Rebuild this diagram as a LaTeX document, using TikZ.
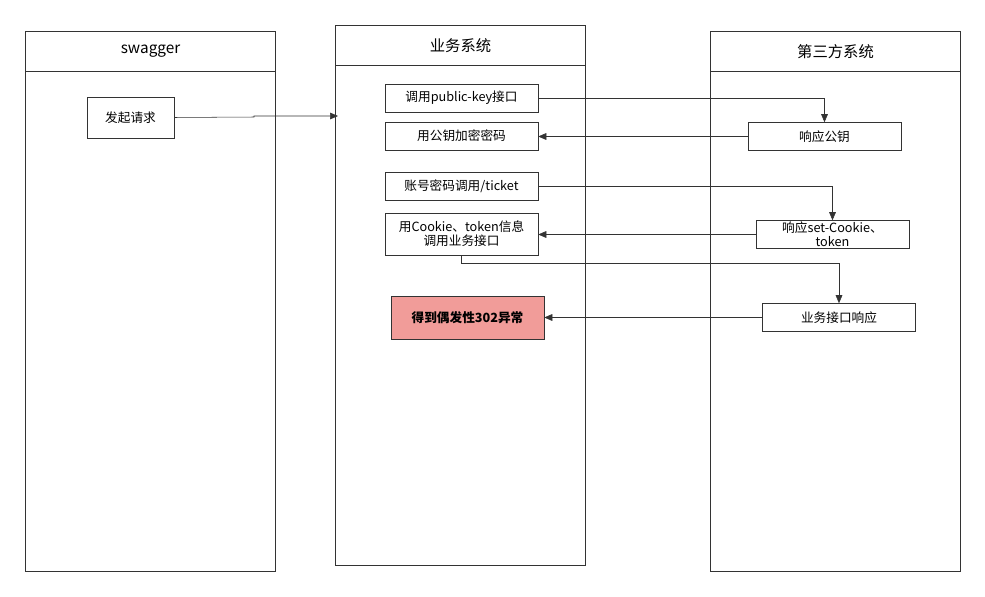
\documentclass[tikz,border=0pt]{standalone}
\usepackage{fontspec}
\setmainfont{Noto Sans CJK SC}
\usetikzlibrary{arrows.meta, positioning, calc}
\definecolor{linegray}{RGB}{51,51,51}
\definecolor{errred}{RGB}{241,156,153}
\tikzset{
    lane/.style={draw=linegray, thick, minimum width=187.5pt, anchor=north west, inner sep=0pt},
    stepbox/.style={draw=linegray, minimum width=114.75pt, minimum height=21pt, inner sep=1pt, font=\fontsize{9.5}{10.5}\selectfont, align=center},
    flow/.style={-{Triangle[length=6pt,width=5pt]}, draw=linegray}
}
\begin{document}
\begin{tikzpicture}[x=0.75pt, y=-0.75pt]
    \useasboundingbox (0,0) rectangle (985,596);
    % lanes
    \node[lane, minimum height=405pt] (swbox) at (25,31) {};
    \node[lane, minimum height=30pt, font=\fontsize{11.5}{13}\selectfont] (swhead) at (25,31) {swagger};
    \node[lane, minimum height=405pt] (bizbox) at (335,25) {};
    \node[lane, minimum height=30pt, font=\fontsize{11.5}{13}\selectfont] (bizhead) at (335,25) {业务系统};
    \node[lane, minimum height=405pt] (thirdbox) at (710,31) {};
    \node[lane, minimum height=30pt, font=\fontsize{11.5}{13}\selectfont] (thirdhead) at (710,31) {第三方系统};

    % steps
    \node[stepbox, minimum width=65pt, minimum height=30.75pt] (start) at (130.5,117.5) {发起请求};
    \node[stepbox] (pubkey) at (461.5,98) {调用public-key接口};
    \node[stepbox] (encrypt) at (461.5,136) {用公钥加密密码};
    \node[stepbox] (resppub) at (824.5,136.5) {响应公钥};
    \node[stepbox] (ticket) at (461.5,186) {账号密码调用/ticket};
    \node[stepbox, minimum height=31.5pt] (callbiz) at (461.5,234) {用Cookie、token信息\\调用业务接口};
    \node[stepbox] (respcookie) at (832.5,234.5) {响应set-Cookie、\\token};
    \node[stepbox, fill=errred, minimum height=32pt, font=\fontsize{9.5}{10.5}\selectfont\bfseries] (error) at (467.5,317.5) {得到偶发性302异常};
    \node[stepbox] (respbiz) at (839,317.5) {业务接口响应};

    % connectors
    \coordinate (bizin) at (338,116);
    \draw[flow] (start.east) -- (254,117) -- (254,116) -- (bizin);
    \draw[flow] (pubkey.east) -| (resppub.north);
    \draw[flow] (resppub.west) -- (encrypt.east |- resppub.west);
    \draw[flow] (ticket.east) -| (respcookie.north);
    \draw[flow] (respcookie.west) -- (callbiz.east |- respcookie.west);
    \draw[flow] (callbiz.south) -- ++(0,8) -| (respbiz.north);
    \draw[flow] (respbiz.west) -- (error.east);
\end{tikzpicture}
\end{document}
